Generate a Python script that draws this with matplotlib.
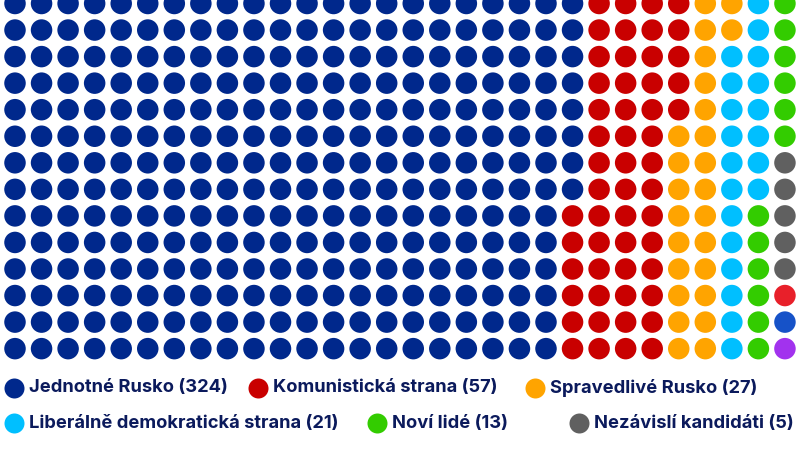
import numpy as np
import matplotlib
matplotlib.use("Agg")
import matplotlib.pyplot as plt

# seats per party (450), grid 15 rows x 30 columns, filled column by column
parties = ["Jednotné Rusko", "Komunistická strana", "Spravedlivé Rusko",
           "Liberálně demokratická strana", "Noví lidé", "Nezávislí kandidáti",
           "Rodina", "Strana růstu", "Občanská platforma"]
seats = [324, 57, 27, 21, 13, 5, 1, 1, 1]
colors = ["#00288c", "#c90000", "#ffa400", "#00bfff", "#33cc00", "#606060",
          "#e8202a", "#1652c8", "#a232ee"]
in_legend = [True, True, True, True, True, True, False, False, False]

n_rows = 15
n_cols = 30

# pixel layout
x0, dx = 15.0, 26.55
y0 = 3.5 - dx   # first row sits just above the picture
dot = 21.5

fig = plt.figure(figsize=(8, 4.49), dpi=100)
ax = fig.add_axes([0, 0, 1, 1])
ax.set_xlim(0, 800)
ax.set_ylim(449, 0)
ax.axis("off")

seat_colors = np.repeat(colors, seats)
idx = np.arange(len(seat_colors))
cols = idx // n_rows
rows = idx % n_rows
ax.scatter(x0 + cols * dx, y0 + rows * dx, s=(dot * 0.72) ** 2,
           c=seat_colors, linewidths=0, zorder=2)

# legend (wrapped like the original)
leg_pos = [(14, 388), (258, 388), (535, 388),
           (14, 423), (377, 423), (579, 423)]
text_col = "#0b1a5c"
k = 0
for name, n, c, show in zip(parties, seats, colors, in_legend):
    if not show:
        continue
    lx, ly = leg_pos[k]
    ax.scatter([lx], [ly], s=(20 * 0.72) ** 2, c=c, linewidths=0)
    ax.text(lx + 15, ly, f"{name} ({n})", fontsize=13.2, fontweight="bold",
            family=["Inter", "DejaVu Sans"], color=text_col, va="center", ha="left")
    k += 1

fig.savefig("out.png", dpi=100)
